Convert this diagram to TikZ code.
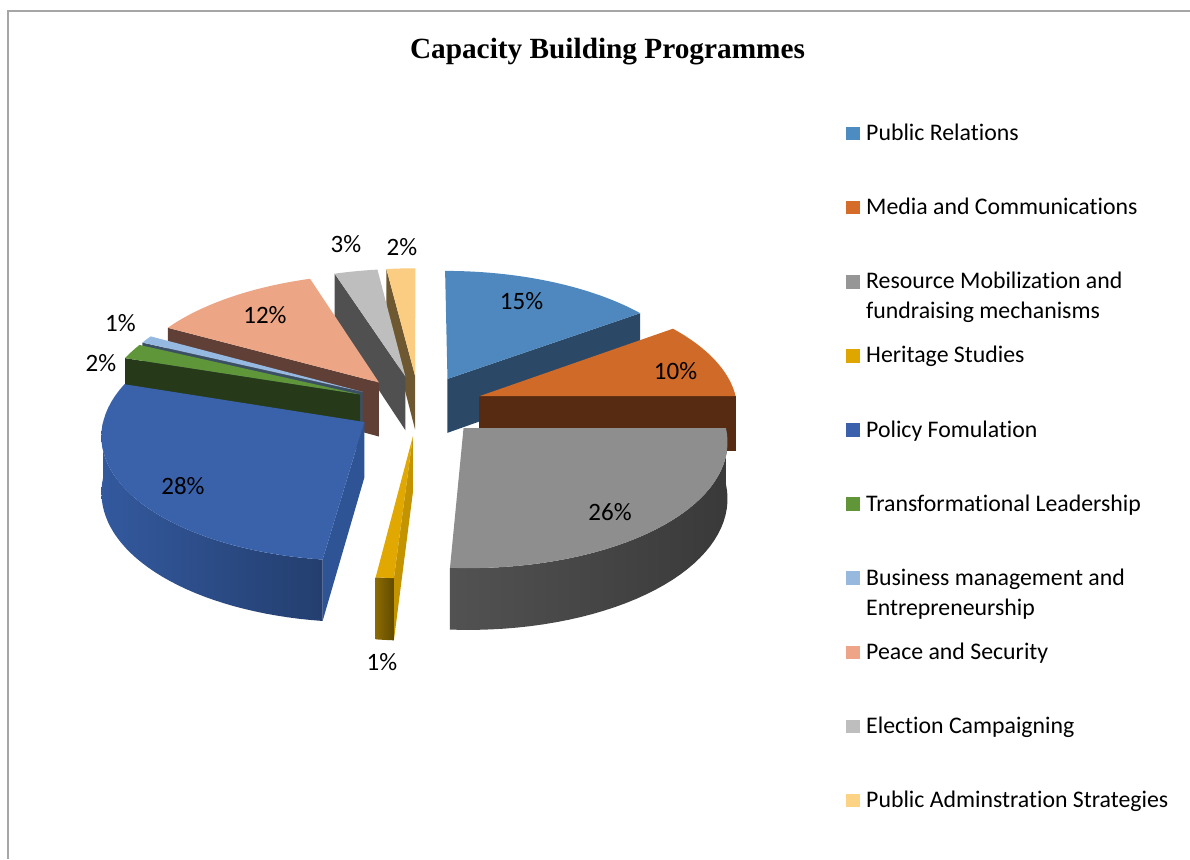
\documentclass[tikz,border=0pt]{standalone}
\usepackage{fontspec}
\setmainfont{Liberation Serif}
\newfontfamily\calib[Ligatures=NoCommon]{Carlito}

\definecolor{prtop}{HTML}{4E88BE}  \definecolor{prcut}{HTML}{2B4966}
\definecolor{medtop}{HTML}{D06A28} \definecolor{medcut}{HTML}{562B12}
\definecolor{restop}{HTML}{8E8E8E} \definecolor{rescut}{HTML}{3E3E3E} \definecolor{resrim}{HTML}{525252}
\definecolor{hertop}{HTML}{E0A800} \definecolor{hercut}{HTML}{C49400} \definecolor{herrim}{HTML}{8A6A00}
\definecolor{poltop}{HTML}{3A62AA} \definecolor{polcut}{HTML}{2E5496} \definecolor{polrim}{HTML}{33599E}
\definecolor{tratop}{HTML}{5F963A} \definecolor{tracut}{HTML}{263A1A}
\definecolor{bustop}{HTML}{96B9E1} \definecolor{buscut}{HTML}{3C5064}
\definecolor{peatop}{HTML}{ECA585} \definecolor{peacut}{HTML}{604036}
\definecolor{eletop}{HTML}{BEBEBE} \definecolor{elecut}{HTML}{505050}
\definecolor{admtop}{HTML}{FACD82} \definecolor{admcut}{HTML}{6E5832}
\definecolor{keypr}{HTML}{4D8CC0}  \definecolor{keymed}{HTML}{D66C2A}
\definecolor{keyres}{HTML}{969696} \definecolor{keyher}{HTML}{E0A600}
\definecolor{keypol}{HTML}{3B60AC} \definecolor{keytra}{HTML}{609638}
\definecolor{keybus}{HTML}{98B9DE} \definecolor{keypea}{HTML}{EEA587}
\definecolor{keyele}{HTML}{BEBEBE} \definecolor{keyadm}{HTML}{FCD285}
\definecolor{framegray}{HTML}{A6A6A6}

% one exploded slice: start, end (degrees clockwise from top), top, cut face, rim, name
\newcommand{\pieslice}[6]{%
  \pgfmathsetmacro\ou{0.248*sin((#1+#2)/2)}
  \pgfmathsetmacro\ov{0.248*cos((#1+#2)/2)}
  \coordinate (#6) at ({scrx(\ou,\ov)},{scry(\ov,0)});
  \coordinate (#6b) at ({scrx(\ou,\ov)},{scry(\ov,1)});
  \pgfmathtruncatemacro\showcut{sin(#1)<-0.001}
  \ifnum\showcut=1
    \fill[#4] (#6) -- ({scrx(\ou+sin(#1),\ov+cos(#1))},{scry(\ov+cos(#1),0)})
      -- ({scrx(\ou+sin(#1),\ov+cos(#1))},{scry(\ov+cos(#1),1)}) -- (#6b) -- cycle;
  \fi
  \pgfmathtruncatemacro\showcut{sin(#2)>0.001}
  \ifnum\showcut=1
    \fill[#4] (#6) -- ({scrx(\ou+sin(#2),\ov+cos(#2))},{scry(\ov+cos(#2),0)})
      -- ({scrx(\ou+sin(#2),\ov+cos(#2))},{scry(\ov+cos(#2),1)}) -- (#6b) -- cycle;
  \fi
  \pgfmathsetmacro\ta{max(#1,90)}
  \pgfmathsetmacro\tb{min(#2,270)}
  \pgfmathtruncatemacro\showrim{\ta<\tb}
  \ifnum\showrim=1
    \shade[left color=#5, right color=#5!70!black]
      plot[variable=\ang, domain=\ta:\tb, samples=36] ({scrx(\ou+sin(\ang),\ov+cos(\ang))},{scry(\ov+cos(\ang),0)})
      -- plot[variable=\ang, domain=\tb:\ta, samples=36] ({scrx(\ou+sin(\ang),\ov+cos(\ang))},{scry(\ov+cos(\ang),1)})
      -- cycle;
  \fi
  \fill[#3] (#6) -- plot[variable=\ang, domain=#1:#2, samples=36]
    ({scrx(\ou+sin(\ang),\ov+cos(\ang))},{scry(\ov+cos(\ang),0)}) -- cycle;
}

\tikzset{
  pct/.style={font=\calib\fontsize{25}{30}\selectfont, anchor=base, inner sep=0pt},
  keybox/.style={minimum width=13.5pt, minimum height=13.5pt, inner sep=0pt},
  keytext/.style={font=\calib\fontsize{23.8}{30}\selectfont, anchor=base west, inner sep=0pt},
}

\begin{document}
\begin{tikzpicture}[x=1pt, y=-1pt,
  declare function={
    wdep(\v)=1+0.0926*\v;
    scrx(\u,\v)=419+258*\u/wdep(\v);
    scry(\v,\z)=405.5+(55*\z-122.7*\v)/wdep(\v);
  }]
\useasboundingbox (0,0) rectangle (1190,859);
\draw[framegray, line width=1.5pt] (8,859) -- (8,11) -- (1190,11);

\node[font=\bfseries\fontsize{29.3}{34}\selectfont, anchor=base] (title) at (607.5,58.5) {Capacity Building Programmes};

% slices, back to front
\pieslice{352.8}{360}{admtop}{admcut}{admcut}{adm}
\pieslice{342}{352.8}{eletop}{elecut}{elecut}{ele}
\pieslice{0}{54}{prtop}{prcut}{prcut}{pr}
\pieslice{298.8}{342}{peatop}{peacut}{peacut}{pea}
\pieslice{295.2}{298.8}{bustop}{buscut}{buscut}{bus}
\pieslice{288}{295.2}{tratop}{tracut}{tracut}{tra}
\pieslice{54}{90}{medtop}{medcut}{medcut}{med}
\pieslice{187.2}{288}{poltop}{polcut}{polrim}{pol}
\pieslice{90}{183.6}{restop}{rescut}{resrim}{res}
\pieslice{183.6}{187.2}{hertop}{hercut}{herrim}{her}

% data labels
\node[pct] (lpr)  at (521.5,309) {15\%};
\node[pct] (lmed) at (675.5,379) {10\%};
\node[pct] (lres) at (610,520) {26\%};
\node[pct] (lher) at (382,670) {1\%};
\node[pct] (lpol) at (183,494) {28\%};
\node[pct] (ltra) at (101,371.5) {2\%};
\node[pct] (lbus) at (120.5,331) {1\%};
\node[pct] (lpea) at (265,323) {12\%};
\node[pct] (lele) at (346,252) {3\%};
\node[pct] (ladm) at (402,255) {2\%};

% legend
\foreach \col/\txt [count=\i from 0] in {keypr/Public Relations, keymed/Media and Communications,
    keyres/{Resource Mobilization and\\fundraising mechanisms}, keyher/Heritage Studies,
    keypol/Policy Fomulation, keytra/Transformational Leadership,
    keybus/{Business management and\\Entrepreneurship}, keypea/Peace and Security,
    keyele/Election Campaigning, keyadm/Public Adminstration Strategies}
{
  \node[keybox, fill=\col] (key\i) at (853,133.6+74.1*\i) {};
  \node[keytext] (txt\i) at (866,140.6+74.1*\i) {\begin{tabular}[t]{@{}l@{}}\txt\end{tabular}};
}
\end{tikzpicture}
\end{document}
